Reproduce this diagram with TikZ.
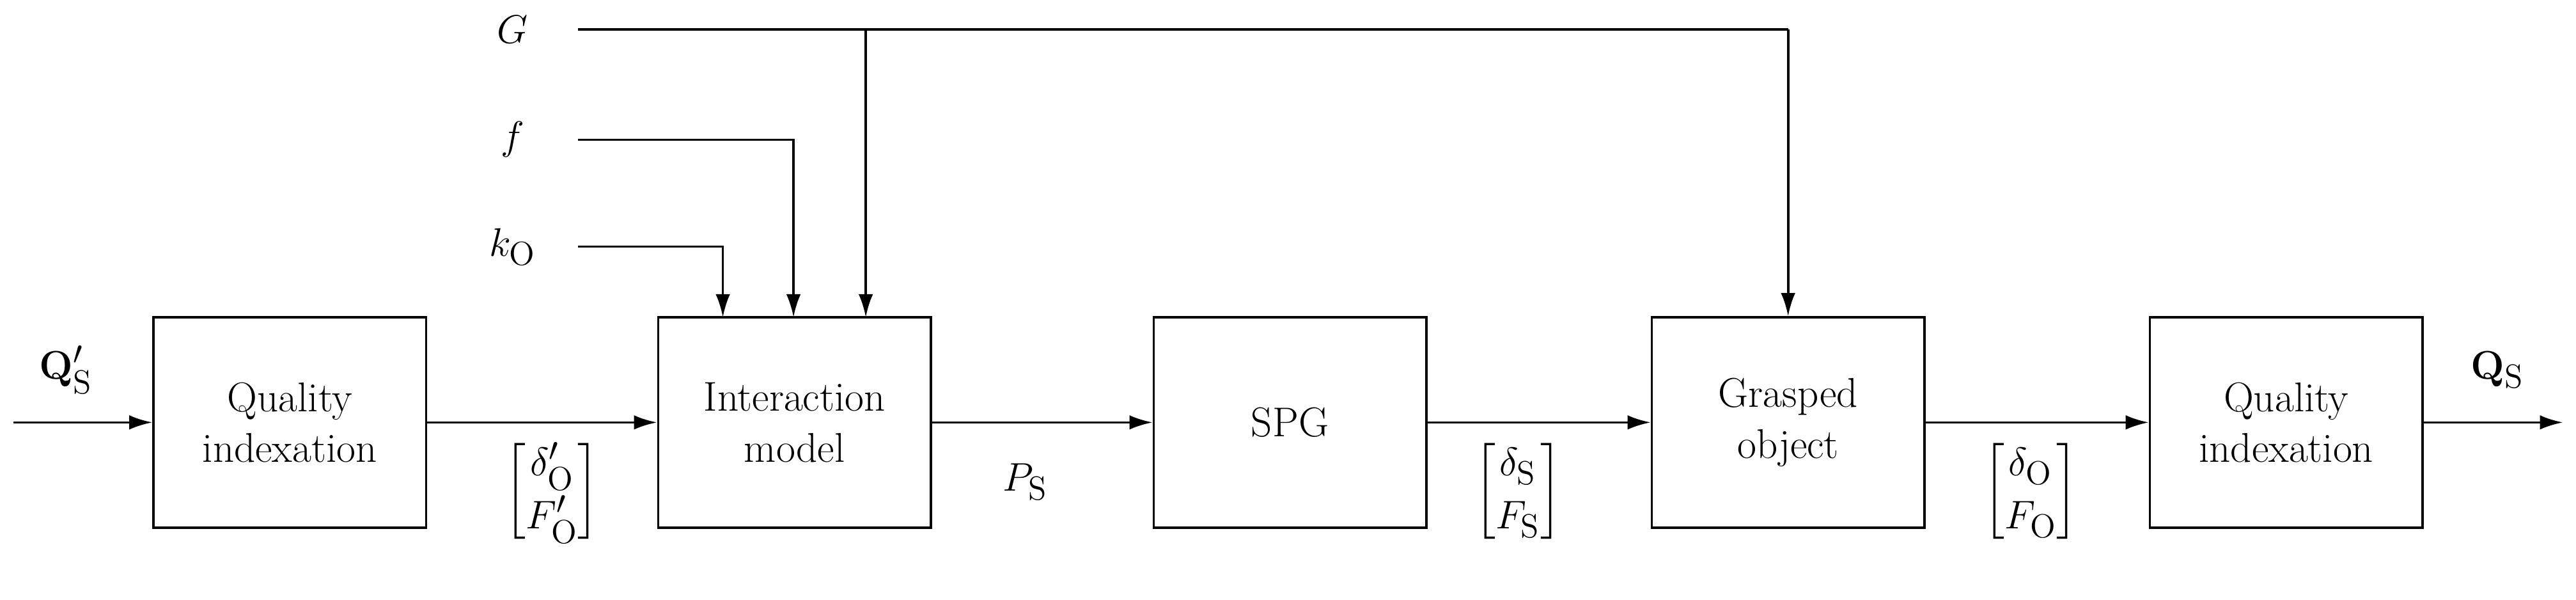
\documentclass[tikz,border=0pt]{standalone}
\usetikzlibrary{arrows.meta}
\usepackage{amsmath}
\begin{document}
\begin{tikzpicture}[
  blk/.style={draw,line width=1pt,minimum width=4.15cm,minimum height=3.2cm,align=center,font=\fontsize{18}{22}\selectfont},
  lab/.style={font=\fontsize{19}{23}\selectfont},
  arr/.style={line width=1pt,-{Latex[length=0.35cm,width=0.22cm]}},
  ln/.style={line width=1pt}]
\useasboundingbox (0,0) rectangle (39.2,9.125);
\node[blk] (b1) at (4.41,2.7) {Quality\\indexation};
\node[blk] (b2) at (12.09,2.7) {Interaction\\model};
\node[blk] (b3) at (19.63,2.7) {SPG};
\node[blk] (b4) at (27.21,2.7) {Grasped\\object};
\node[blk] (b5) at (34.79,2.7) {Quality\\indexation};
\coordinate (in) at (0.2,2.7);
\coordinate (out) at (39.0,2.7);
\draw[arr] (in) -- (b1);
\draw[arr] (b1) -- (b2);
\draw[arr] (b2) -- (b3);
\draw[arr] (b3) -- (b4);
\draw[arr] (b4) -- (b5);
\draw[arr] (b5) -- (out);
\node[lab] (q1) at (1.0,3.5) {$\mathbf{Q}'_{\mathrm{S}}$};
\node[lab] (q2) at (38.0,3.5) {$\mathbf{Q}_{\mathrm{S}}$};
\node[lab] (m1) at (8.4,1.65) {$\begin{bmatrix}\delta'_{\mathrm{O}}\\ F'_{\mathrm{O}}\end{bmatrix}$};
\node[lab] (ps) at (15.6,1.8) {$P_{\mathrm{S}}$};
\node[lab] (m2) at (23.1,1.65) {$\begin{bmatrix}\delta_{\mathrm{S}}\\ F_{\mathrm{S}}\end{bmatrix}$};
\node[lab] (m3) at (30.9,1.65) {$\begin{bmatrix}\delta_{\mathrm{O}}\\ F_{\mathrm{O}}\end{bmatrix}$};
\node[lab] (G) at (7.8,8.675) {$G$};
\node[lab] (f) at (7.8,7.0) {$f$};
\node[lab] (k) at (7.8,5.375) {$k_{\mathrm{O}}$};
\coordinate (gs) at (8.8,8.675);
\coordinate (fs) at (8.8,7.0);
\coordinate (ks) at (8.8,5.375);
\coordinate (gb) at (13.175,8.675);
\coordinate (gc) at (27.21,8.675);
\draw[arr] (ks) -| (11.0,4.3);
\draw[arr] (fs) -| (12.075,4.3);
\draw[ln] (gs) -- (gc);
\draw[arr] (gc) -- (b4.north);
\draw[arr] (gb) -- (13.175,4.3);
\end{tikzpicture}
\end{document}
